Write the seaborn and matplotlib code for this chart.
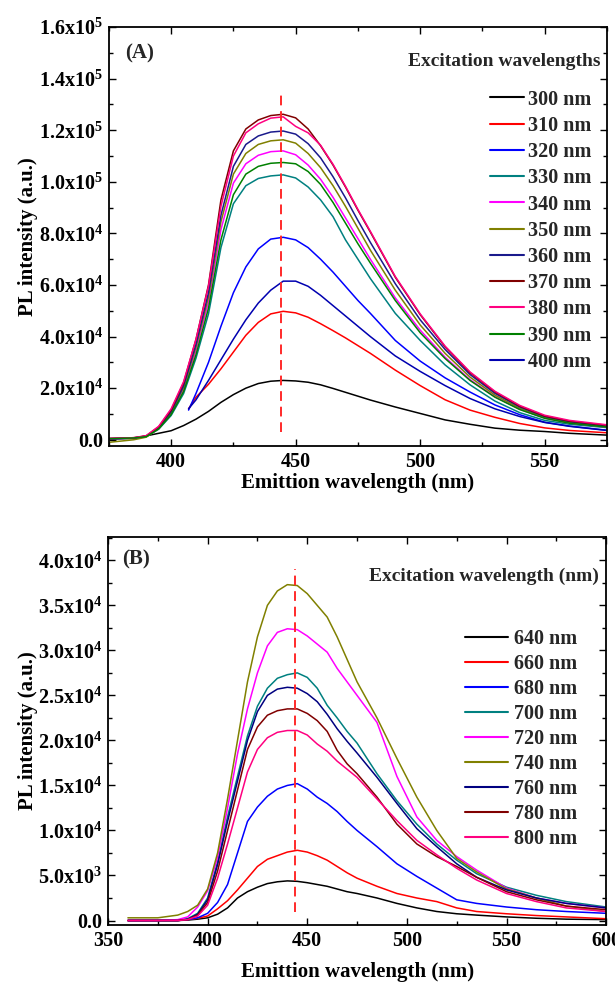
import numpy as np
import pandas as pd
import matplotlib
matplotlib.use("Agg")
import matplotlib.pyplot as plt
import seaborn as sns
from matplotlib.ticker import FixedLocator, FixedFormatter, MultipleLocator

# ---------------- panel A data (emission spectra, UV excitation) ----------------
wl_a = [375, 385, 390, 395, 400, 405, 410, 415, 420, 425, 430, 435, 440, 445, 450,
        455, 460, 465, 470, 475, 480, 490, 500, 510, 520, 530, 540, 550, 560, 575]
wl_a_late = [407, 410, 415, 420, 425, 430, 435, 440, 445, 450, 455, 460, 465, 470,
             475, 480, 490, 500, 510, 520, 530, 540, 550, 560, 575]

pl_300 = [300, 500, 1500, 2500, 3500, 5500, 8000, 11000, 14500, 17500, 20000, 21800, 22700, 23000, 22800,
          22300, 21300, 19900, 18400, 16900, 15400, 12700, 10200, 7700, 6000, 4500, 3700, 3200, 2500, 1800]
pl_310 = [12000, 16500, 21500, 27500, 34000, 40500, 45500, 48800, 49800, 49200, 47500, 45000, 42300, 39500,
          36500, 33500, 27000, 21000, 15500, 11500, 8700, 6300, 4600, 3600, 2700]
pl_320 = [11500, 18000, 30000, 44000, 57000, 67000, 74000, 77800, 78500, 77500, 74500, 70000, 65000, 59500,
          54000, 49000, 38500, 30500, 24000, 18500, 13500, 9700, 6800, 5300, 3700]
pl_330 = [500, 700, 1200, 4100, 9400, 17900, 31700, 48800, 74500, 91500, 98500, 101300, 102300, 102700, 101500,
          98000, 93000, 86500, 77500, 70000, 62500, 49000, 38500, 29000, 21300, 15000, 10500, 7500, 6000, 4700]
pl_340 = [400, 700, 1300, 4400, 10200, 19500, 34600, 53300, 81500, 99500, 107000, 110300, 111700, 112000, 110500,
          106500, 101000, 94000, 86000, 78000, 70000, 55000, 42500, 32000, 23300, 16700, 11800, 8400, 6500, 4900]
pl_350 = [-1000, 0, 1000, 4500, 10600, 20300, 36000, 55300, 84500, 103000, 111000, 114500, 115900, 116300, 115000,
          111000, 105500, 98500, 90500, 82000, 73500, 58000, 44500, 33500, 24300, 17300, 12200, 8700, 6700, 5000]
pl_360 = [300, 700, 1400, 4700, 10900, 20900, 37000, 57000, 87000, 106000, 114500, 117800, 119300, 119700, 118500,
          114800, 109300, 102000, 93800, 85000, 76500, 60500, 46500, 35000, 25300, 18000, 12700, 9000, 7000, 5200]
pl_370 = [500, 800, 1500, 5000, 11500, 22000, 39000, 60000, 93000, 112000, 120500, 124000, 125700, 126200, 124800,
          120500, 114000, 106500, 98000, 89000, 80500, 63000, 48500, 36000, 26000, 18500, 13000, 9200, 7200, 5600]
pl_380 = [500, 800, 1600, 5200, 12000, 22500, 39000, 59500, 90500, 110000, 119000, 122500, 124700, 125200, 121500,
          119000, 114200, 106800, 98300, 89300, 80800, 63300, 48800, 36300, 26300, 18800, 13300, 9500, 7500, 5800]
pl_390 = [400, 700, 1200, 4200, 9800, 18700, 33000, 51000, 77500, 95000, 103000, 106000, 107200, 107500, 107000,
          104000, 99000, 92000, 84000, 76000, 68500, 54000, 41500, 31500, 23000, 16500, 11700, 8300, 6400, 4900]
pl_400 = [12000, 15500, 23000, 31000, 39000, 46500, 53000, 58000, 61500, 61500, 59500, 56000, 52000, 48000,
          44000, 40000, 32500, 26500, 21000, 16000, 12000, 9000, 6700, 5200, 3600]

labels_a = ["300 nm", "310 nm", "320 nm", "330 nm", "340 nm", "350 nm",
            "360 nm", "370 nm", "380 nm", "390 nm", "400 nm"]
colors_a = ["#000000", "#ff0000", "#0000ff", "#008080", "#ff00ff", "#808000",
            "#1a1a8c", "#800000", "#ff0080", "#008000", "#0000b0"]

# ---------------- panel B data (NIR excitation) ----------------
wl_b = [360, 375, 385, 390, 395, 400, 405, 410, 415, 420, 425, 430, 435, 440, 445, 450,
        455, 460, 465, 470, 475, 485, 495, 505, 515, 525, 535, 550, 565, 580, 600]

pl_640 = [0, 0, 0, 50, 150, 300, 700, 1400, 2500, 3200, 3700, 4100, 4300, 4400, 4350, 4200,
          4000, 3800, 3500, 3200, 3000, 2500, 1900, 1400, 1000, 750, 600, 400, 250, 150, 100]
pl_660 = [0, 0, 0, 100, 250, 500, 1300, 2200, 3400, 4700, 6000, 6800, 7200, 7600, 7800, 7600,
          7200, 6700, 6000, 5300, 4700, 3800, 3000, 2500, 2100, 1400, 1000, 750, 550, 400, 200]
pl_680 = [0, 0, 0, 100, 300, 800, 2000, 4000, 7500, 11000, 12600, 13800, 14600, 15000, 15200, 14600,
          13700, 13000, 12100, 11000, 10000, 8200, 6300, 4900, 3600, 2300, 1900, 1500, 1200, 1000, 800]
pl_700 = [0, 0, 0, 200, 800, 2500, 6500, 11500, 16000, 20500, 23800, 25800, 26900, 27300, 27500, 27000,
          25800, 23900, 22500, 21000, 19700, 16300, 13300, 10700, 8500, 6700, 5200, 3700, 2800, 2100, 1500]
pl_720 = [0, 0, 100, 400, 1500, 3300, 7000, 12500, 18500, 23500, 27500, 30500, 32000, 32400, 32300, 31600,
          30700, 29800, 28000, 26500, 25000, 22000, 16000, 11500, 8900, 7100, 5600, 3600, 2500, 1900, 1400]
pl_740 = [300, 300, 600, 1000, 1700, 3500, 7500, 13500, 20000, 26500, 31500, 35000, 36600, 37300, 37200, 36300,
          35000, 33700, 31500, 29000, 26500, 22500, 18000, 13700, 10000, 6900, 5400, 3500, 2500, 1600, 1000]
pl_760 = [0, 0, 0, 150, 700, 2300, 6200, 11000, 15500, 20000, 23200, 25000, 25700, 25900, 25800, 25200,
          24300, 22900, 21300, 19900, 18600, 15900, 13000, 10200, 8200, 6300, 4800, 3400, 2500, 1900, 1400]
pl_780 = [0, 0, 0, 100, 600, 2000, 5500, 10000, 14500, 19000, 21500, 22800, 23300, 23500, 23500, 23000,
          22200, 21000, 18900, 17400, 16300, 13700, 10700, 8500, 7100, 6000, 4800, 3200, 2300, 1600, 1200]
pl_800 = [0, 0, 0, 100, 500, 1700, 4700, 8500, 12500, 16500, 19000, 20300, 20900, 21100, 21100, 20600,
          19600, 18800, 17700, 16800, 15900, 13500, 11100, 8900, 7300, 5800, 4500, 3000, 2100, 1400, 1000]

labels_b = ["640 nm", "660 nm", "680 nm", "700 nm", "720 nm", "740 nm", "760 nm", "780 nm", "800 nm"]
colors_b = ["#000000", "#ff0000", "#0000ff", "#008080", "#ff00ff", "#808000",
            "#000080", "#800000", "#ff0080"]

# dashed peak markers: (wavelength, y start, y end)
peak_a = (444, 3000, 135000)
peak_b = (444, 1000, 39000)

# axis ticks
yticks_a = [0, 20000, 40000, 60000, 80000, 100000, 120000, 140000, 160000]
ylabels_a = ["0.0", "2.0x10$^{4}$", "4.0x10$^{4}$", "6.0x10$^{4}$", "8.0x10$^{4}$",
             "1.0x10$^{5}$", "1.2x10$^{5}$", "1.4x10$^{5}$", "1.6x10$^{5}$"]
yticks_b = [0, 5000, 10000, 15000, 20000, 25000, 30000, 35000, 40000]
ylabels_b = ["0.0", "5.0x10$^{3}$", "1.0x10$^{4}$", "1.5x10$^{4}$", "2.0x10$^{4}$",
             "2.5x10$^{4}$", "3.0x10$^{4}$", "3.5x10$^{4}$", "4.0x10$^{4}$"]


def long_frame(pairs):
    rows = []
    for label, grid, vals in pairs:
        for x, y in zip(grid, vals):
            rows.append({"wavelength": x, "intensity": y, "series": label})
    return pd.DataFrame(rows)


df_a = long_frame([
    ("300 nm", wl_a, pl_300), ("310 nm", wl_a_late, pl_310), ("320 nm", wl_a_late, pl_320),
    ("330 nm", wl_a, pl_330), ("340 nm", wl_a, pl_340), ("350 nm", wl_a, pl_350),
    ("360 nm", wl_a, pl_360), ("370 nm", wl_a, pl_370), ("380 nm", wl_a, pl_380),
    ("390 nm", wl_a, pl_390), ("400 nm", wl_a_late, pl_400),
])
df_b = long_frame([
    (lab, wl_b, vals) for lab, vals in zip(labels_b, [pl_640, pl_660, pl_680, pl_700, pl_720,
                                                       pl_740, pl_760, pl_780, pl_800])
])

sns.set_theme(style="ticks")
plt.rcParams["font.family"] = ["Liberation Serif", "DejaVu Serif"]
plt.rcParams["font.weight"] = "bold"
plt.rcParams["mathtext.fontset"] = "custom"
plt.rcParams["mathtext.rm"] = "Liberation Serif:bold"
plt.rcParams["mathtext.it"] = "Liberation Serif:bold"
plt.rcParams["mathtext.bf"] = "Liberation Serif:bold"
plt.rcParams["mathtext.default"] = "rm"
plt.rcParams["axes.linewidth"] = 1.3
plt.rcParams["axes.edgecolor"] = "black"

fig = plt.figure(figsize=(6.15, 9.85), dpi=100)
ax_a = fig.add_axes([0.177, 0.547, 0.810, 0.4255])
ax_b = fig.add_axes([0.1756, 0.0609, 0.810, 0.394])


def style_axis(ax, xlim, ylim, xmajor, xminor, yticks, ylabels, yminor):
    ax.set_xlim(*xlim)
    ax.set_ylim(*ylim)
    ax.xaxis.set_major_locator(FixedLocator(xmajor))
    ax.xaxis.set_minor_locator(MultipleLocator(xminor))
    ax.yaxis.set_major_locator(FixedLocator(yticks))
    ax.yaxis.set_major_formatter(FixedFormatter(ylabels))
    ax.yaxis.set_minor_locator(MultipleLocator(yminor))
    ax.tick_params(which="both", direction="in", top=True, right=True, width=1.0,
                   color="black", labelsize=14.5, labelcolor="black")
    ax.tick_params(which="major", length=5, pad=4)
    ax.tick_params(which="minor", length=3)
    for lab in ax.get_xticklabels() + ax.get_yticklabels():
        lab.set_fontweight("bold")
    for sp in ax.spines.values():
        sp.set_visible(True)
        sp.set_color("black")
    ax.set_xlabel("Emittion wavelength (nm)", fontsize=15, fontweight="bold", color="black")
    ax.set_ylabel("PL intensity (a.u.)", fontsize=15, fontweight="bold", color="black")


# ---- panel A ----
sns.lineplot(data=df_a, x="wavelength", y="intensity", hue="series", hue_order=labels_a,
             palette=dict(zip(labels_a, colors_a)), estimator=None, linewidth=1.1, ax=ax_a)
ax_a.vlines(peak_a[0], peak_a[1], peak_a[2], colors="#ff2a2a", linestyles=(0, (5, 3)), linewidth=1.4)
style_axis(ax_a, (375, 575), (-2500, 160000), [400, 450, 500, 550], 25, yticks_a, ylabels_a, 10000)
ax_a.xaxis.labelpad = 1
ax_a.yaxis.set_label_coords(-0.143, 0.5)
h, l = ax_a.get_legend_handles_labels()
leg = ax_a.legend(h, l, loc="upper left", bbox_to_anchor=(0.765, 0.851), frameon=False,
                  fontsize=14.5, handlelength=1.7, handletextpad=0.2, labelspacing=0.31,
                  borderpad=0, borderaxespad=0)
for line in leg.get_lines():
    line.set_linewidth(1.5)
ax_a.text(0.986, 0.919, "Excitation wavelengths", transform=ax_a.transAxes, ha="right",
          va="center", fontsize=14, fontweight="bold")
ax_a.text(0.032, 0.938, "(A)", transform=ax_a.transAxes, ha="left", va="center",
          fontsize=15, fontweight="bold")

# ---- panel B ----
sns.lineplot(data=df_b, x="wavelength", y="intensity", hue="series", hue_order=labels_b,
             palette=dict(zip(labels_b, colors_b)), estimator=None, linewidth=1.1, ax=ax_b)
ax_b.vlines(peak_b[0], peak_b[1], peak_b[2], colors="#ff2a2a", linestyles=(0, (5, 3)), linewidth=1.4)
style_axis(ax_b, (350, 600), (-500, 42600), [350, 400, 450, 500, 550, 600], 25,
           yticks_b, ylabels_b, 2500)
ax_b.xaxis.labelpad = 8
ax_b.yaxis.set_label_coords(-0.141, 0.5)
h, l = ax_b.get_legend_handles_labels()
leg = ax_b.legend(h, l, loc="upper left", bbox_to_anchor=(0.717, 0.763), frameon=False,
                  fontsize=14.5, handlelength=2.14, handletextpad=0.3, labelspacing=0.25,
                  borderpad=0, borderaxespad=0)
for line in leg.get_lines():
    line.set_linewidth(1.5)
ax_b.text(0.986, 0.899, "Excitation wavelength (nm)", transform=ax_b.transAxes, ha="right",
          va="center", fontsize=14, fontweight="bold")
ax_b.text(0.028, 0.941, "(B)", transform=ax_b.transAxes, ha="left", va="center",
          fontsize=15, fontweight="bold")

fig.savefig("out.png", dpi=100)
